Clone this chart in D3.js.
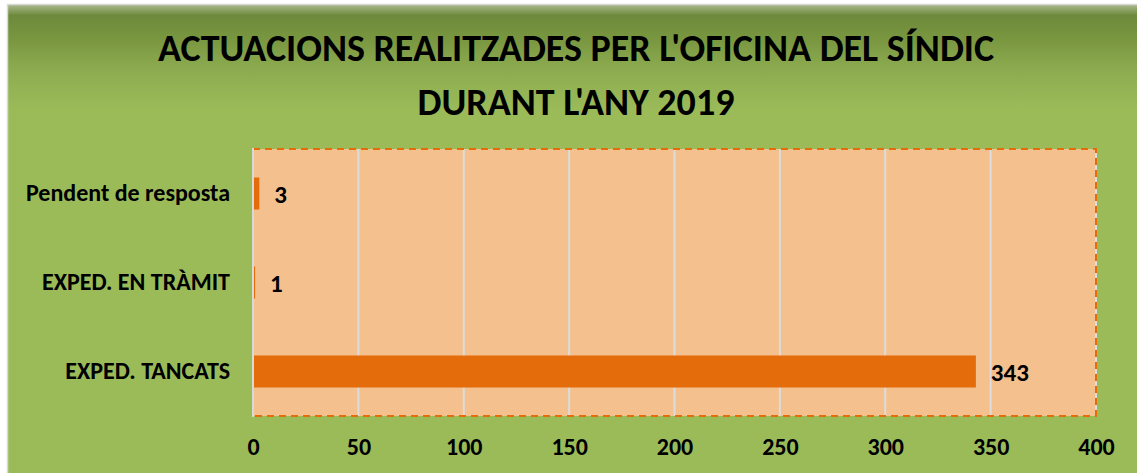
<!DOCTYPE html>
<html>
<head>
<meta charset="utf-8">
<script src="https://cdn.jsdelivr.net/npm/d3@7"></script>
<style>
  body { margin: 0; background: #fff; }
  svg text { font-family: Calibri, Carlito, Lato, sans-serif; font-weight: bold; fill: #000; }
</style>
</head>
<body>
<div id="vis"></div>
<script>
var titleLines = ["ACTUACIONS REALITZADES PER L'OFICINA DEL SÍNDIC", "DURANT L'ANY 2019"];
var categories = ["Pendent de resposta", "EXPED. EN TRÀMIT", "EXPED. TANCATS"];
var values = [3, 1, 343];
var ticks = [0, 50, 100, 150, 200, 250, 300, 350, 400];

var width = 1137,
    height = 473,
    margin = {top: 149, right: 41, bottom: 57, left: 253},
    drawWidth = width - margin.left - margin.right,
    drawHeight = height - margin.top - margin.bottom;

var svg = d3.select('#vis')
    .append('svg')
    .attr('width', width)
    .attr('height', height);

// green background with the dark band at the top
var grad = svg.append('defs').append('linearGradient')
    .attr('id', 'bg')
    .attr('gradientUnits', 'userSpaceOnUse')
    .attr('x1', 0).attr('y1', 6).attr('x2', 0).attr('y2', 110);
grad.append('stop').attr('offset', '0%').attr('stop-color', '#a4b483');
grad.append('stop').attr('offset', '9%').attr('stop-color', '#6d8a3c');
grad.append('stop').attr('offset', '30%').attr('stop-color', '#78953f');
grad.append('stop').attr('offset', '60%').attr('stop-color', '#8cab50');
grad.append('stop').attr('offset', '100%').attr('stop-color', '#9bbb59');

svg.append('rect')
    .attr('x', 7.5).attr('y', 4.5)
    .attr('width', width).attr('height', height)
    .attr('fill', 'url(#bg)')
    .attr('stroke', '#d9d9d9')
    .attr('stroke-width', 1.5);

svg.append('text')
    .attr('text-anchor', 'middle')
    .style('font-size', '38px')
    .selectAll('tspan')
    .data(titleLines)
    .enter().append('tspan')
    .attr('x', 576)
    .attr('y', function(d, i) { return 61 + i * 54; })
    .text(function(d) { return d; });

var xScale = d3.scaleLinear().domain([0, 400]).range([0, drawWidth]);
var yScale = d3.scaleBand()
    .domain(categories)
    .range([0, drawHeight])
    .paddingInner(0.64)
    .paddingOuter(0.32);

var g = svg.append('g')
    .attr('transform', 'translate(' + margin.left + ',' + margin.top + ')');

g.append('rect')
    .attr('width', drawWidth)
    .attr('height', drawHeight)
    .attr('fill', '#f4c08e');

g.selectAll('.grid')
    .data(ticks)
    .enter().append('line')
    .attr('class', 'grid')
    .attr('x1', function(d) { return xScale(d); })
    .attr('x2', function(d) { return xScale(d); })
    .attr('y1', 0)
    .attr('y2', drawHeight)
    .attr('stroke', '#dcdcdc')
    .attr('stroke-width', 2);

g.selectAll('.bar')
    .data(values)
    .enter().append('rect')
    .attr('class', 'bar')
    .attr('x', 0)
    .attr('y', function(d, i) { return yScale(categories[i]); })
    .attr('width', function(d) { return xScale(d); })
    .attr('height', yScale.bandwidth())
    .attr('fill', '#e46c0a');

g.selectAll('.value')
    .data(values)
    .enter().append('text')
    .attr('class', 'value')
    .attr('x', function(d) { return xScale(d) + 15; })
    .attr('y', function(d, i) { return yScale(categories[i]) + yScale.bandwidth() / 2; })
    .attr('dy', '0.36em')
    .style('font-size', '25px')
    .text(function(d) { return d; });

g.append('rect')
    .attr('width', drawWidth)
    .attr('height', drawHeight)
    .attr('fill', 'none')
    .attr('stroke', '#e46c0a')
    .attr('stroke-width', 2)
    .attr('stroke-dasharray', '7,5');

g.append('line')
    .attr('x1', 0).attr('x2', 0)
    .attr('y1', -1).attr('y2', drawHeight + 1)
    .attr('stroke', '#d9d9d9')
    .attr('stroke-width', 2);

var xAxis = g.append('g')
    .attr('transform', 'translate(0,' + drawHeight + ')')
    .call(d3.axisBottom(xScale).tickValues(ticks).tickSize(0).tickFormat(d3.format('d')));
xAxis.select('.domain').remove();
xAxis.selectAll('text')
    .attr('y', 39)
    .attr('dy', 0)
    .style('font-size', '24px');

var yAxis = g.append('g')
    .call(d3.axisLeft(yScale).tickSize(0).tickPadding(23));
yAxis.select('.domain').remove();
yAxis.selectAll('text')
    .style('font-size', '24px');
</script>
</body>
</html>
